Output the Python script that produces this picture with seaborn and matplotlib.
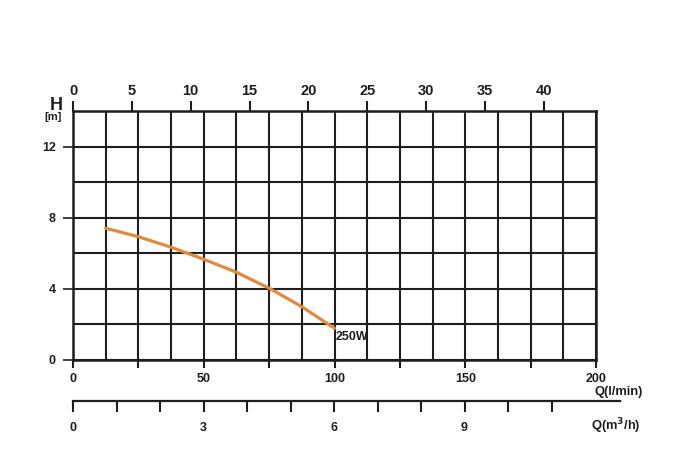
import numpy as np
import pandas as pd
import matplotlib
matplotlib.use("Agg")
import matplotlib.pyplot as plt
from matplotlib.ticker import MultipleLocator, FuncFormatter, FixedLocator
import seaborn as sns

# ---- data ----
flow_lpm = [12.5, 25, 37.5, 50, 62.5, 75, 87.5, 100]
head_m = [7.40, 6.92, 6.33, 5.65, 4.92, 4.02, 2.98, 1.76]
curve_label = "250W"
top_ticks = [0, 5, 10, 15, 20, 25, 30, 35, 40]
m3h_ticks = list(range(0, 12))
m3h_labels = [0, 3, 6, 9]
LPM_PER_TOP = 4.5
LPM_PER_M3H = 50 / 3

sns.set_theme(style="white")
plt.rcParams["font.family"] = ["Liberation Sans", "DejaVu Sans"]
plt.rcParams["font.weight"] = "bold"

fig = plt.figure(figsize=(7, 4.75), dpi=100)
W, H = 700, 475
def pos(x0, y0, x1, y1):
    return [x0 / W, 1 - y1 / H, (x1 - x0) / W, (y1 - y0) / H]

ax = fig.add_axes(pos(73, 111, 596, 359.6))
dark = "#1e1e1e"
df = pd.DataFrame({"Q": flow_lpm, "H": head_m})
sns.lineplot(data=df, x="Q", y="H", ax=ax, color="#e08a3c", lw=2.3, zorder=5)
ax.set_xlim(0, 200)
ax.set_ylim(0, 14)
ax.set_xlabel("")
ax.set_ylabel("")

ax.xaxis.set_major_locator(MultipleLocator(25))
ax.xaxis.set_minor_locator(MultipleLocator(12.5))
ax.xaxis.set_major_formatter(FuncFormatter(lambda v, p: f"{int(v)}" if v % 50 == 0 else ""))
ax.yaxis.set_major_locator(FixedLocator([0, 4, 8, 12]))
ax.yaxis.set_minor_locator(MultipleLocator(2))
ax.grid(True, which="both", color=dark, lw=1.5)
ax.tick_params(axis="x", which="major", direction="out", length=6, width=1.5, color=dark,
               pad=4, labelsize=9, labelcolor=dark, bottom=True)
ax.tick_params(axis="y", which="major", direction="out", length=7.5, width=1.2, color=dark,
               pad=5, labelsize=9, labelcolor=dark, left=True)
ax.tick_params(which="minor", length=0)
for s in ax.spines.values():
    s.set_color(dark)
    s.set_linewidth(1.8)
for lab in ax.get_xticklabels() + ax.get_yticklabels():
    lab.set_fontweight("bold")

ax.text(flow_lpm[-1] + 0.3, 1.27, curve_label, ha="left", va="center",
        fontsize=9, fontweight="bold", color=dark, zorder=6)

# top axis
top = ax.secondary_xaxis("top", functions=(lambda x: x / LPM_PER_TOP, lambda x: x * LPM_PER_TOP))
top.set_xticks(top_ticks)
top.tick_params(direction="out", length=7, width=1.5, color=dark, pad=2,
                labelsize=10.5, labelcolor=dark)
for lab in top.get_xticklabels():
    lab.set_fontweight("bold")
top.spines["top"].set_visible(False)

fig.text(56 / W, 1 - 105.5 / H, "H", ha="center", va="center", fontsize=13,
         fontweight="bold", color=dark)
fig.text(53 / W, 1 - 117.5 / H, "[m]", ha="center", va="center", fontsize=8,
         fontweight="bold", color=dark)
fig.text(643 / W, 1 - 392 / H, "Q(l/min)", ha="right", va="center", fontsize=9.3,
         fontweight="bold", color=dark)

# secondary flow axis (m3/h)
ax2 = fig.add_axes(pos(73, 400, 620, 401))
ax2.set_xlim(0, (547 / (522 / 200)) / LPM_PER_M3H)
ax2.set_ylim(0, 1)
for k in ["top", "left", "right"]:
    ax2.spines[k].set_visible(False)
ax2.spines["bottom"].set_color(dark)
ax2.spines["bottom"].set_linewidth(1.6)
ax2.set_yticks([])
ax2.set_xticks(m3h_ticks)
ax2.set_xticklabels([str(t) if t in m3h_labels else "" for t in m3h_ticks])
ax2.tick_params(axis="x", direction="out", length=8, width=1.5, color=dark, pad=7,
                labelsize=9, labelcolor=dark, bottom=True)
for lab in ax2.get_xticklabels():
    lab.set_fontweight("bold")
ax2.set_facecolor("none")
fig.text(641 / W, 1 - 426 / H, "Q(m$^3$/h)", ha="right", va="center", fontsize=9.3,
         fontweight="bold", color=dark)

fig.savefig("out.png", dpi=100)
